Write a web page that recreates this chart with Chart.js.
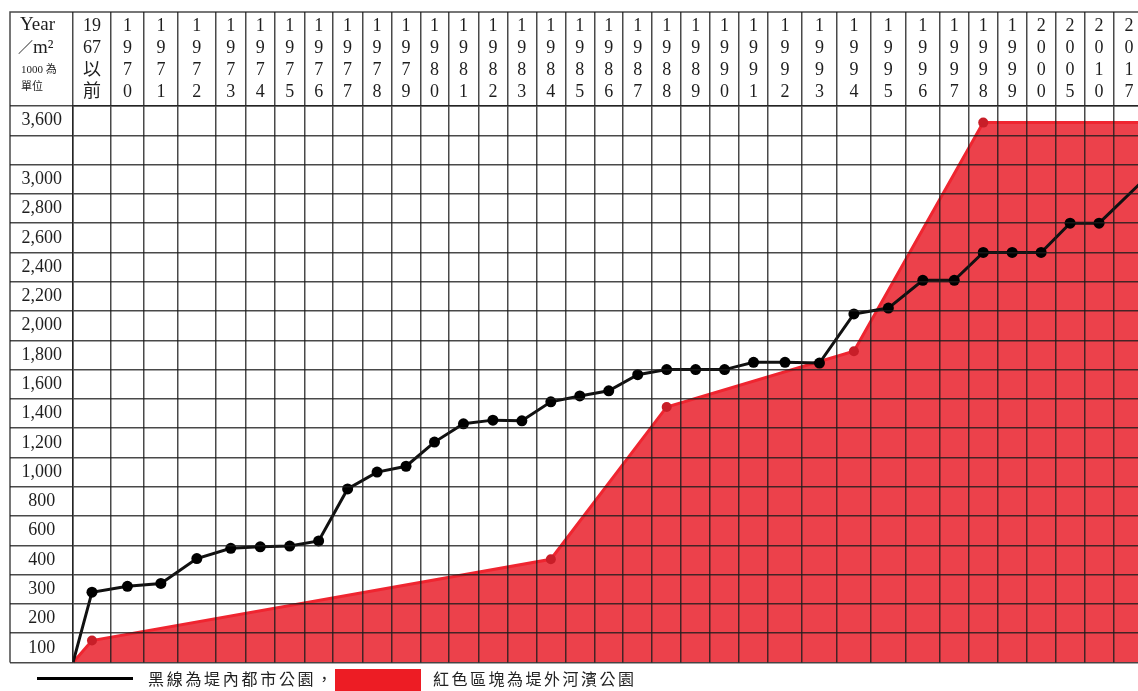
<!DOCTYPE html>
<html><head><meta charset="utf-8">
<script src="https://cdn.jsdelivr.net/npm/chart.js@4/dist/chart.umd.min.js"></script>
<style>
html,body{margin:0;padding:0;background:#fff;overflow:hidden;width:1138px;height:691px;}
#wrap{position:relative;width:1150px;height:691px;}
canvas{position:absolute;left:0;top:0;}
.t{position:absolute;white-space:nowrap;color:#1e1e1e;}
.serif{font-family:'Liberation Serif','Noto Sans CJK TC',serif;}
.cjk{font-family:'Noto Sans CJK TC',sans-serif;}
</style></head><body>
<div id="wrap">
<canvas id="c" width="1150" height="691"></canvas>
<div class="t serif" style="left:20px;top:13px;font-size:19px;line-height:22px">Year</div>
<div class="t" style="left:18px;top:36px;font-size:18px;line-height:22px"><span class="cjk" style="font-size:15px">／</span><span class="serif" style="font-size:19px">m²</span></div>
<div class="t" style="left:21px;top:61px;font-size:11px;line-height:14px"><span class="serif">1000 </span><span class="cjk">為</span></div>
<div class="t cjk" style="left:21px;top:78px;font-size:11px;line-height:14px">單位</div>
<div style="position:absolute;left:37px;top:677px;width:96px;height:3px;background:#000"></div>
<div class="t cjk" style="left:148px;top:667px;font-size:16px;line-height:22px;letter-spacing:2.7px;color:#222">黑線為堤內都市公園，</div>
<div style="position:absolute;left:335px;top:669px;width:86px;height:24px;background:#ed1c24"></div>
<div class="t cjk" style="left:433px;top:667px;font-size:16px;line-height:22px;letter-spacing:2.5px;color:#222">紅色區塊為堤外河濱公園</div>
</div>
<script>
// ---- data ----
const categories = ['1967以前','1970','1971','1972','1973','1974','1975','1976','1977','1978','1979',
  '1980','1981','1982','1983','1984','1985','1986','1987','1988','1989','1990','1991','1992','1993',
  '1994','1995','1996','1997','1998','1999','2000','2005','2010','2017'];
// black line: urban parks inside the levee (1000 m²)
const urbanParks = [290,310,320,410,480,490,495,530,885,1000,1040,1205,1330,1355,1350,1480,1520,1555,
  1665,1700,1700,1700,1750,1750,1745,2080,2120,2310,2310,2500,2500,2500,2700,2700,3000];
// red area: riverside parks outside the levee (1000 m²)
const riversideParks = [125,null,null,null,null,null,null,null,null,null,null,null,null,null,null,405,
  null,null,null,1445,null,null,null,null,null,1825,null,null,null,3580,null,null,null,null,3580];
const startValue = 0;
// y row labels, bottom to top (one table row each)
const rowLabels = ['100','200','300','400','600','800','1,000','1,200','1,400','1,600','1,800',
  '2,000','2,200','2,400','2,600','2,800','3,000','','3,600'];

// ---- table layout (relative column widths) ----
const columnWidths = [38,33,34,38,30,29,30,28,30,29,29,28,30,29,29,29,29,29,29,29,29,29,29,34,35,34,35,34,29,29,29,29,29,29,31];

const GRID = 'rgba(28,28,28,0.8)';
const colStart = [], colEnd = [];
columnWidths.reduce((acc, w, i) => { colStart[i] = acc; colEnd[i] = acc + w; return acc + w; }, 0);
const totalWidth = colEnd[colEnd.length - 1];
// final category is drawn at the table's right edge, as in the source
const plotAt = i => i === categories.length - 1 ? colEnd[i] : colStart[i] + columnWidths[i] / 2;

// row value anchors: each labelled row's centre carries its value; blank row interpolated
const rowValues = rowLabels.map(s => s ? Number(s.replace(/,/g, '')) : null);
rowValues.forEach((v, k) => { if (v === null) rowValues[k] = (rowValues[k - 1] + rowValues[k + 1]) / 2; });
const anchors = [[startValue, 0]].concat(rowValues.map((v, k) => [v, k + 0.5]));
function toRow(v) {
  for (let k = 1; k < anchors.length; k++) {
    const [v0, r0] = anchors[k - 1], [v1, r1] = anchors[k];
    if (v <= v1) return r0 + (v - v0) / (v1 - v0) * (r1 - r0);
  }
  return anchors[anchors.length - 1][1];
}

const headerLabels = categories.map(c => c.length === 4 ? c.split('') : [c.slice(0, 2), c.slice(2, 4), c[4], c[5]]);

const xTicks = [0];
categories.forEach((c, i) => { xTicks.push(colStart[i] + columnWidths[i] / 2, colEnd[i]); });
const yTicks = [];
for (let k = 0; k <= rowLabels.length; k++) { yTicks.push(k); if (k < rowLabels.length) yTicks.push(k + 0.5); }

const blackData = [{x: 0, y: toRow(startValue)}].concat(urbanParks.map((v, i) => ({x: plotAt(i), y: toRow(v)})));
const redData = [{x: 0, y: toRow(startValue)}].concat(
  riversideParks.map((v, i) => v === null ? null : {x: plotAt(i), y: toRow(v)}).filter(p => p));

const tickFont = {family: "'Liberation Serif','Noto Sans CJK TC',serif", size: 18, lineHeight: '22px'};

const tableFrame = {
  id: 'tableFrame',
  afterDraw(chart) {
    const {ctx, chartArea} = chart;
    const ys = chart.scales.y, xs = chart.scales.x;
    ctx.save();
    ctx.strokeStyle = GRID; ctx.lineWidth = 1.5;
    ctx.beginPath();
    ctx.moveTo(ys.left, chartArea.bottom);
    ctx.lineTo(ys.left, xs.top);
    ctx.lineTo(chart.width, xs.top);
    ctx.stroke();
    ctx.restore();
  }
};

new Chart(document.getElementById('c'), {
  type: 'line',
  data: {
    datasets: [
      {
        label: '黑線為堤內都市公園',
        data: blackData,
        borderColor: '#111', borderWidth: 3,
        pointBackgroundColor: '#000', pointBorderWidth: 0,
        pointRadius: ctx => ctx.dataIndex === 0 ? 0 : 5.5,
        fill: false, tension: 0
      },
      {
        label: '紅色區塊為堤外河濱公園',
        data: redData,
        borderColor: '#ef2530', borderWidth: 3,
        backgroundColor: '#ec414b',
        pointBackgroundColor: '#c81e28', pointBorderWidth: 0,
        pointRadius: ctx => ctx.dataIndex === 0 ? 0 : 5,
        fill: 'start', tension: 0
      }
    ]
  },
  options: {
    responsive: false,
    animation: false,
    events: [],
    layout: {padding: {left: 10, top: 12, right: 4, bottom: 28.5}},
    plugins: {legend: {display: false}, tooltip: {enabled: false}},
    scales: {
      x: {
        type: 'linear', position: 'top', min: 0, max: totalWidth, bounds: 'data',
        afterBuildTicks: s => { s.ticks = xTicks.map(v => ({value: v})); },
        afterFit: s => { s.height = 94; },
        grid: {
          z: 1, tickLength: 94, lineWidth: 1.5,
          color: ctx => ctx.index % 2 === 0 ? GRID : 'rgba(0,0,0,0)'
        },
        border: {z: 1, color: GRID, width: 1.5},
        ticks: {
          autoSkip: false, maxRotation: 0, minRotation: 0, padding: -91,
          font: tickFont, color: '#1e1e1e',
          callback: (v, i) => i % 2 === 1 ? headerLabels[(i - 1) / 2] : ''
        }
      },
      y: {
        type: 'linear', position: 'left', min: 0, max: rowLabels.length, bounds: 'data',
        afterBuildTicks: s => { s.ticks = yTicks.map(v => ({value: v})); },
        afterFit: s => { s.width = 63; },
        grid: {
          z: 1, tickLength: 63, lineWidth: 1.5,
          color: ctx => ctx.index % 2 === 0 ? GRID : 'rgba(0,0,0,0)'
        },
        border: {z: 1, color: GRID, width: 1.5},
        ticks: {
          autoSkip: false, crossAlign: 'center', padding: -52,
          font: tickFont, color: '#1e1e1e',
          callback: (v, i) => i % 2 === 1 ? rowLabels[(i - 1) / 2] : ''
        }
      }
    }
  },
  plugins: [tableFrame]
});
</script>
</body></html>
